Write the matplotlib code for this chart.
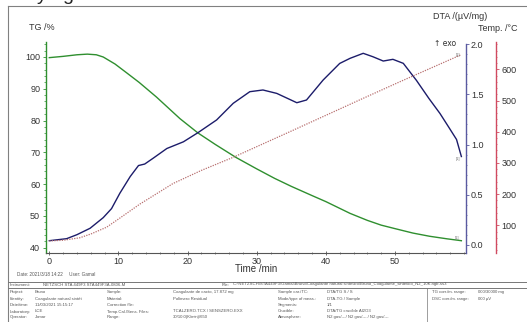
import matplotlib
matplotlib.use("Agg")
import matplotlib.pyplot as plt
from matplotlib.ticker import MultipleLocator
from matplotlib.lines import Line2D

plt.rcParams['font.family'] = ['Liberation Sans', 'DejaVu Sans']

# ---------------- data ----------------
time_tg = [0, 2, 4, 5.5, 6.8, 7.8, 9.5, 11.2, 13, 15.5, 18.9, 21.5, 24, 27, 30, 32.6,
           35, 38, 40, 43.5, 46, 48, 50, 52.6, 55, 57.5, 59.6]
tg = [99.8, 100.2, 100.7, 100.9, 100.7, 100.0, 97.8, 95.0, 92.0, 87.4, 80.6, 76.1, 72.5,
      68.4, 64.8, 61.8, 59.3, 56.4, 54.5, 50.8, 48.6, 47.1, 46.0, 44.6, 43.6, 42.8, 42.2]

time_dta = [0, 2.5, 4, 5.9, 7.8, 9.0, 10.2, 11.7, 12.9, 13.8, 15.0, 17.0, 19.4, 21.5, 24.2,
            26.6, 29.0, 30.9, 32.9, 35.8, 37.2, 39.6, 42.0, 43.5, 45.4, 46.8, 48.3, 49.7,
            51.2, 53.1, 54.9, 56.5, 57.8, 58.9, 59.6]
dta = [0.04, 0.06, 0.10, 0.164, 0.27, 0.36, 0.513, 0.68, 0.79, 0.805, 0.862, 0.96, 1.027,
       1.118, 1.245, 1.411, 1.527, 1.544, 1.51, 1.417, 1.444, 1.643, 1.809, 1.86, 1.91,
       1.876, 1.833, 1.85, 1.81, 1.64, 1.46, 1.31, 1.17, 1.05, 0.88]

time_temp = [0, 2, 4.4, 6, 8.3, 10, 13.1, 17.9, 22, 26.6, 35, 45, 50.7, 59.6]
temp = [50, 52, 60, 72, 94, 120, 168, 234, 276, 318, 402, 503, 560, 647]

x_ticks = [0, 10, 20, 30, 40, 50]
tg_ticks = [40, 50, 60, 70, 80, 90, 100]
dta_ticks = [0.0, 0.5, 1.0, 1.5, 2.0]
temp_ticks = [100, 200, 300, 400, 500, 600]

# ---------------- figure ----------------
W, H = 527, 322
fig = plt.figure(figsize=(W / 100, H / 100), dpi=100)


def fx(x):
    return x / W


def fy(y):
    return 1 - y / H


GREEN = '#2f8f2f'
NAVY = '#1c1c6a'
TEMPC = '#b87070'
TXT = '#333333'

# outer frame
fig.add_artist(Line2D([fx(8), fx(8)], [fy(6), fy(322)], color='#808080', lw=0.8))
fig.add_artist(Line2D([fx(8), fx(527)], [fy(6), fy(6)], color='#808080', lw=0.8))

# cut-off title fragments at the very top
fig.text(fx(37), fy(-0.5), 'y', fontsize=14, color='#222222', va='baseline', ha='left')
fig.text(fx(62), fy(-0.5), 'g', fontsize=14, color='#222222', va='baseline', ha='left')

left, right, top, bottom = 45.7, 466.0, 41.7, 253.3
ax = fig.add_axes([fx(left), fy(bottom), fx(right - left), (bottom - top) / H])
ax.set_facecolor('none')

px_per_min = (395 - 49.3) / 50
ax.set_xlim((left - 49.3) / px_per_min, (right - 49.3) / px_per_min)
px_per_pct = (247.7 - 57.0) / 60
ax.set_ylim(40 - (bottom - 247.7) / px_per_pct, 100 + (57.0 - top) / px_per_pct)

ax.plot(time_tg, tg, color=GREEN, lw=1.0)

for s in ['top', 'right']:
    ax.spines[s].set_visible(False)
ax.spines['left'].set_color(GREEN)
ax.spines['left'].set_linewidth(1.0)
ax.spines['bottom'].set_color('#555555')
ax.spines['bottom'].set_linewidth(0.8)
ax.set_xticks(x_ticks)
ax.xaxis.set_minor_locator(MultipleLocator(2))
ax.set_yticks(tg_ticks)
ax.yaxis.set_minor_locator(MultipleLocator(2))
ax.tick_params(axis='x', which='major', direction='inout', length=3, width=0.6,
               labelsize=6.5, labelcolor=TXT, color='#555555', pad=1)
ax.tick_params(axis='x', which='minor', direction='inout', length=1.5, width=0.5,
               color='#555555')
ax.tick_params(axis='y', which='major', direction='out', length=2.5, width=0.6,
               labelsize=6.5, labelcolor=TXT, color=GREEN, pad=1.5)
ax.tick_params(axis='y', which='minor', direction='out', length=1.2, width=0.5,
               color=GREEN)

# DTA axis
ax2 = ax.twinx()
px_per_dta = (244.7 - 44.3) / 2.0
ax2.set_ylim(-(bottom - 244.7) / px_per_dta, 2.0 + (44.3 - top) / px_per_dta)
ax2.plot(time_dta, dta, color=NAVY, lw=1.0)
for s in ['top', 'left', 'bottom']:
    ax2.spines[s].set_visible(False)
ax2.spines['right'].set_color('#5a5aa0')
ax2.spines['right'].set_linewidth(1.0)
ax2.spines['right'].set_bounds(-0.086, 2.0)
ax2.set_yticks(dta_ticks)
ax2.set_yticklabels(['0.0', '0.5', '1.0', '1.5', '2.0'])
ax2.yaxis.set_minor_locator(MultipleLocator(0.1))
ax2.tick_params(axis='y', which='major', direction='out', length=2, width=0.6,
                labelsize=6.5, labelcolor=TXT, color='#5a5aa0', pad=1.5)
ax2.tick_params(axis='y', which='minor', direction='out', length=1, width=0.5,
                color='#5a5aa0')

# Temperature axis
ax3 = ax.twinx()
px_per_deg = (225.3 - 69.3) / 500
ax3.set_ylim(-(bottom - 256.5) / px_per_deg, (256.5 - top) / px_per_deg)
ax3.plot(time_temp, temp, color=TEMPC, lw=0.9, linestyle=(0, (1, 1)))
for s in ['top', 'left', 'bottom']:
    ax3.spines[s].set_visible(False)
ax3.spines['right'].set_position(('axes', (496 - left) / (right - left)))
ax3.spines['right'].set_color('#d04a60')
ax3.spines['right'].set_linewidth(1.0)
ax3.set_yticks(temp_ticks)
ax3.yaxis.set_minor_locator(MultipleLocator(20))
ax3.tick_params(axis='y', which='major', direction='out', length=2, width=0.6,
                labelsize=6.5, labelcolor=TXT, color='#d04a60', pad=2)
ax3.tick_params(axis='y', which='minor', direction='out', length=1, width=0.5,
                color='#d04a60')

# curve end markers
ax.text(time_tg[-1] - 0.3, tg[-1] + 0.3, '[1]', fontsize=3, color='#777777', ha='right', va='bottom')
ax2.text(time_dta[-1] - 0.2, dta[-1] - 0.02, '[1]', fontsize=3, color='#777777', ha='right', va='center')
ax3.text(time_temp[-1] - 0.2, temp[-1], '[1]', fontsize=3, color='#777777', ha='right', va='center')

# axis titles
fig.text(fx(29), fy(27), 'TG /%', fontsize=6.5, color=TXT, va='center', ha='left')
fig.text(fx(433), fy(16.7), 'DTA /(µV/mg)', fontsize=6.5, color=TXT, va='center', ha='left')
fig.text(fx(517), fy(28.3), 'Temp. /°C', fontsize=6.5, color=TXT, va='center', ha='right')
fig.text(fx(456), fy(43), '↑ exo', fontsize=5.5, color=TXT, va='center', ha='right',
         family=['DejaVu Sans'])
fig.text(fx(256), fy(269.5), 'Time /min', fontsize=7, color=TXT, va='center', ha='center')

# date / user line
fig.text(fx(17), fy(275), 'Date: 2021/3/18 14:22     User: Gamal', fontsize=3.3,
         color='#555555', va='center', ha='left')

# info table
tcol = '#777777'
fig.add_artist(Line2D([fx(8), fx(527)], [fy(281.5), fy(281.5)], color=tcol, lw=0.7))
fig.add_artist(Line2D([fx(8), fx(527)], [fy(287.5), fy(287.5)], color=tcol, lw=0.7))
fig.add_artist(Line2D([fx(427), fx(427)], [fy(287.5), fy(322)], color=tcol, lw=0.5))
fig.add_artist(Line2D([fx(8), fx(527)], [fy(321.5), fy(321.5)], color=tcol, lw=0.5))

fs = 3.1
tc = '#555555'
fig.text(fx(10), fy(284.5), 'Instrument:', fontsize=fs, color=tc, va='center')
fig.text(fx(43), fy(284.5), 'NETZSCH STA 449F3 STA449F3A-0806-M', fontsize=fs, color=tc, va='center')
fig.text(fx(222), fy(284.5), 'File:', fontsize=fs, color=tc, va='center')
fig.text(fx(233), fy(284.5),
         'C:\\NETZSCH\\STA449F3\\Gamal\\Bruno\\Coagulante natural sintetico\\Bruno_Coagulante_sintetico_N2_10K.ngb-ss3',
         fontsize=fs, color=tc, va='center')

rows_y = [292.3, 298.7, 305.0, 311.5, 317.3]
col1_lab = ['Project:', 'Identity:', 'Date/time:', 'Laboratory:', 'Operator:']
col1_val = ['Bruno', 'Coagulante natural sintét', '11/03/2021 15:15:17', 'LCE', 'Jomar']
col2_lab = ['Sample:', 'Material:', 'Correction file:', 'Temp.Cal./Sens. Files:', 'Range:']
col2_val = ['Coagulante de cacto, 17.872 mg', 'Polímero Residual', '',
            'TCALZERO.TCX / SENSZERO.EXX', '30/10.0(K/min)/650']
col3_lab = ['Sample car./TC:', 'Mode/type of meas.:', 'Segments:', 'Crucible:', 'Atmosphere:']
col3_val = ['DTA/TG S / S', 'DTA-TG / Sample', '1/1', 'DTA/TG crucible Al2O3',
            'N2 gas/---/ N2 gas/--- / N2 gas/---']
col4_lab = ['TG corr./m. range:', 'DSC corr./m. range:', '', '', '']
col4_val = ['000/30000 mg', '000 µV', '', '', '']

for i, y in enumerate(rows_y):
    for xpos, lst in [(10, col1_lab), (35, col1_val), (107, col2_lab), (173, col2_val),
                      (278, col3_lab), (327, col3_val), (432, col4_lab), (478, col4_val)]:
        if lst[i]:
            fig.text(fx(xpos), fy(y), lst[i], fontsize=fs, color=tc, va='center')

fig.savefig('out.png', dpi=100)
